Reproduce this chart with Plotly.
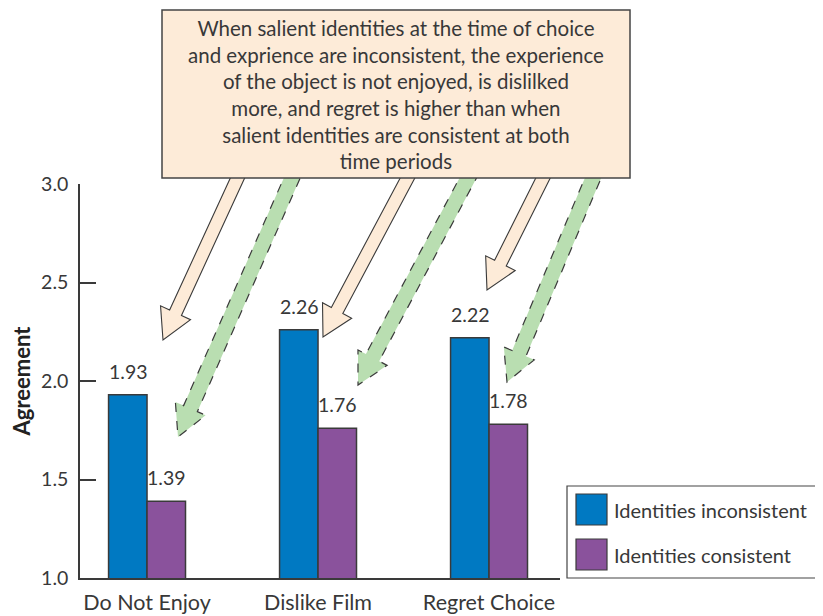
import math
import plotly.graph_objects as go

# ── Data ──────────────────────────────────────────────────────────────────────
CATEGORIES = ["Do Not Enjoy", "Dislike Film", "Regret Choice"]
INCONSISTENT = [1.93, 2.26, 2.22]
CONSISTENT = [1.39, 1.76, 1.78]
SERIES_NAMES = ["Identities inconsistent", "Identities consistent"]
Y_TICKS = [1.0, 1.5, 2.0, 2.5, 3.0]
CALLOUT = ("When salient identities at the time of choice<br>"
           "and exprience are inconsistent, the experience<br>"
           "of the object is not enjoyed, is dislilked<br>"
           "more, and regret is higher than when<br>"
           "salient identities are consistent at both<br>"
           "time periods")

# ── Style ─────────────────────────────────────────────────────────────────────
BLUE = "#0079C2"
PURPLE = "#8A529C"
PEACH = "#FDEBD8"
GREEN = "#B9DEB1"
EDGE = "#3A3A3A"
TEXT = "#383838"
FONT = "Lato, 'Open Sans', sans-serif"

# page body has an 8px margin, so the figure sits 8px in from the window corner
OFFSET = 8
W, H = 823 - OFFSET, 616 - OFFSET
ML, MR, MT, MB = 80 - OFFSET, 263, 184 - OFFSET, 38
PW, PH = W - ML - MR, H - MT - MB


def px(x):
    """window pixel x -> paper fraction"""
    return (x - OFFSET - ML) / PW


def py(y):
    """window pixel y -> paper fraction"""
    return (H - MB - (y - OFFSET)) / PH


def arrow_path(tail, tip, shaft_w, head_w, head_len, extend=8):
    dx, dy = tip[0] - tail[0], tip[1] - tail[1]
    n = math.hypot(dx, dy)
    ux, uy = dx / n, dy / n
    nx, ny = -uy, ux
    tx, ty = tail[0] - ux * extend, tail[1] - uy * extend
    bx, by = tip[0] - ux * head_len, tip[1] - uy * head_len
    pts = [
        (tx + nx * shaft_w / 2, ty + ny * shaft_w / 2),
        (bx + nx * shaft_w / 2, by + ny * shaft_w / 2),
        (bx + nx * head_w / 2, by + ny * head_w / 2),
        tip,
        (bx - nx * head_w / 2, by - ny * head_w / 2),
        (bx - nx * shaft_w / 2, by - ny * shaft_w / 2),
        (tx - nx * shaft_w / 2, ty - ny * shaft_w / 2),
    ]
    return "M " + " L ".join(f"{px(x):.5f},{py(y):.5f}" for x, y in pts) + " Z"


# callout arrows (tail on box bottom, tip) in window pixels
PEACH_ARROWS = [((237.5, 178), (163, 340)), ((407.5, 178), (323, 337)), ((543, 178), (487, 290))]
GREEN_ARROWS = [((292, 178), (178, 437)), ((468, 178), (358, 385)), ((593, 178), (507, 382))]

fig = go.Figure()
for name, vals, color in [(SERIES_NAMES[0], INCONSISTENT, BLUE), (SERIES_NAMES[1], CONSISTENT, PURPLE)]:
    fig.add_trace(go.Bar(
        x=CATEGORIES, y=vals, name=name,
        marker=dict(color=color, line=dict(color=EDGE, width=1.5)),
        showlegend=False,
    ))

shapes = []
for tail, tip in PEACH_ARROWS:
    shapes.append(dict(type="path", xref="paper", yref="paper",
                       path=arrow_path(tail, tip, 13, 33, 30),
                       fillcolor=PEACH, line=dict(color=EDGE, width=1.1), layer="above"))
for tail, tip in GREEN_ARROWS:
    shapes.append(dict(type="path", xref="paper", yref="paper",
                       path=arrow_path(tail, tip, 15, 33, 31),
                       fillcolor=GREEN, line=dict(color=EDGE, width=1.2, dash="dash"), layer="above"))
# callout box
shapes.append(dict(type="rect", xref="paper", yref="paper",
                   x0=px(162), x1=px(630), y0=py(178), y1=py(10),
                   fillcolor=PEACH, line=dict(color="#444444", width=1.5), layer="above"))
# legend box + swatches
shapes.append(dict(type="rect", xref="paper", yref="paper",
                   x0=px(567), x1=px(820), y0=py(578), y1=py(486),
                   fillcolor="white", line=dict(color="#444444", width=1.2)))
for i, color in enumerate([BLUE, PURPLE]):
    top = 494 + i * 45
    shapes.append(dict(type="rect", xref="paper", yref="paper",
                       x0=px(576), x1=px(607), y0=py(top + 31), y1=py(top),
                       fillcolor=color, line=dict(color=EDGE, width=1.2)))

annotations = [dict(
    text=CALLOUT, xref="paper", yref="paper", x=px(396), y=py(94),
    xanchor="center", yanchor="middle", showarrow=False, align="center",
    font=dict(family=FONT, size=20.5, color=TEXT),
)]
for i, name in enumerate(SERIES_NAMES):
    annotations.append(dict(
        text=name, xref="paper", yref="paper", x=px(612), y=py(510 + i * 45),
        xanchor="left", yanchor="middle", showarrow=False,
        font=dict(family=FONT, size=20, color=TEXT),
    ))
for vals, shift in [(INCONSISTENT, -19), (CONSISTENT, 19)]:
    for cat, v in zip(CATEGORIES, vals):
        annotations.append(dict(
            text=f"{v:.2f}", x=cat, y=v, xshift=shift, yshift=10,
            xanchor="center", yanchor="bottom", showarrow=False,
            font=dict(family=FONT, size=19.5, color=TEXT),
        ))

fig.update_layout(
    width=W, height=H,
    margin=dict(l=ML, r=MR, t=MT, b=MB),
    paper_bgcolor="white", plot_bgcolor="white",
    font=dict(family=FONT, color=TEXT),
    barmode="group", bargap=0.55, bargroupgap=0,
    shapes=shapes, annotations=annotations,
    xaxis=dict(
        range=[-0.392, 2.415], showline=True, linecolor=EDGE, linewidth=1.5,
        ticks="", showgrid=False, automargin=False,
        tickfont=dict(family=FONT, size=21.5, color=TEXT), ticklabelstandoff=4,
    ),
    yaxis=dict(
        range=[1, 3], tickvals=Y_TICKS, tickformat=".1f",
        showline=True, linecolor=EDGE, linewidth=1.5,
        ticks="inside", ticklen=16, tickwidth=1.5, tickcolor=EDGE,
        showgrid=False, zeroline=False, automargin=False,
        tickfont=dict(family=FONT, size=19.5, color=TEXT), ticklabelstandoff=6,
        title=dict(text="<b>Agreement</b>", font=dict(family=FONT, size=22, color="#222222"),
                   standoff=13),
    ),
)

fig.write_html("out.html")
